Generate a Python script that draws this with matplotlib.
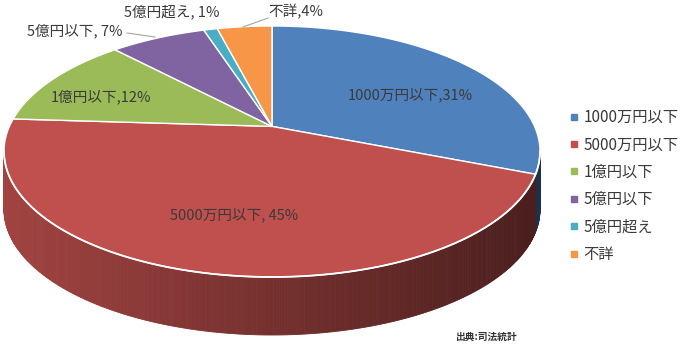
import numpy as np
import matplotlib
matplotlib.use('Agg')
import matplotlib.pyplot as plt
from matplotlib.patches import Polygon
from matplotlib.lines import Line2D
import matplotlib.colors as mcolors

plt.rcParams['font.family'] = ['Noto Sans CJK JP', 'DejaVu Sans']

categories = ['1000万円以下', '5000万円以下', '1億円以下', '5億円以下', '5億円超え', '不詳']
values = [31, 45, 12, 7, 1, 4]
label_texts = ['1000万円以下,31%', '5000万円以下, 45%', '1億円以下,12%',
               '5億円以下, 7%', '5億円超え, 1%', '不詳,4%']
colors = ['#4F81BD', '#C0504D', '#9BBB59', '#8064A2', '#4BACC6', '#F79646']
source_text = '出典:司法統計'

W, H = 680, 345
fig = plt.figure(figsize=(6.8, 3.45), dpi=100)
ax = fig.add_axes([0, 0, 1, 1])

# perspective projection of the unit pie onto the picture (pixels)
K = 0.2
CX = 272
Y_TOP, Y_FRONT = 26, 277
B = (Y_FRONT - Y_TOP) / 2 * (1 - K ** 2)
Y0 = Y_TOP + B / (1 + K)
A = 268 * np.sqrt(1 - K ** 2)
DEPTH = 58


def project(u, v, drop=0.0):
    u = np.asarray(u, float)
    v = np.asarray(v, float)
    d = 1 + K * v
    return CX + A * u / d, Y0 - B * v / d + drop


def arc(t1, t2, n=None):
    if n is None:
        n = max(int(abs(t2 - t1) / 0.5), 2)
    t = np.radians(np.linspace(t1, t2, n))
    return np.cos(t), np.sin(t)


# let the library lay out the wedges
wedges, _ = ax.pie(values, colors=colors, startangle=90, counterclock=False, radius=1)
geo = [(w.theta1, w.theta2, w.get_facecolor()) for w in wedges]
for w in wedges:
    w.remove()

ax.set_aspect('auto')
ax.set_xlim(0, W)
ax.set_ylim(H, 0)
ax.axis('off')

# side wall (visible between the silhouette points)
t_vis = np.degrees(np.arcsin(K))
vis_lo, vis_hi = -180 + t_vis, -t_vis
for t1, t2, fc in geo:
    for off in (-360, 0, 360):
        lo, hi = max(t1 + off, vis_lo), min(t2 + off, vis_hi)
        if hi <= lo:
            continue
        base = np.array(mcolors.to_rgb(fc))
        ts = np.linspace(lo, hi, max(int((hi - lo) / 0.5), 1) + 1)
        for a1, a2 in zip(ts[:-1], ts[1:]):
            u, v = arc(a1, a2, 2)
            xt, yt = project(u, v)
            xb, yb = project(u, v, DEPTH)
            xm = (xt.mean() - CX) / 268
            f = 0.84 - 0.46 * (xm + 1) / 2
            col = np.clip(base * f, 0, 1)
            ax.add_patch(Polygon(np.column_stack([np.r_[xt, xb[::-1]], np.r_[yt, yb[::-1]]]),
                                 closed=True, facecolor=col, edgecolor=col, lw=0.6, zorder=1))

# top face
for t1, t2, fc in geo:
    u, v = arc(t1, t2)
    u = np.r_[0, u]
    v = np.r_[0, v]
    x, y = project(u, v)
    ax.add_patch(Polygon(np.column_stack([x, y]), closed=True, facecolor=fc,
                         edgecolor='white', lw=1.0, joinstyle='miter', zorder=3))

# white highlight along front rim
u, v = arc(vis_lo, vis_hi)
x, y = project(u, v)
ax.plot(x, y, color='white', lw=1.3, zorder=5)

# data labels
label_pos = [(410, 95), (234, 215), (101, 97), (75, 31), (172, 12), (296, 12)]
for txt, (x, y) in zip(label_texts, label_pos):
    ax.text(x, y, txt, ha='center', va='center', fontsize=10.5, color='#3A3A3A', zorder=10)

# leader lines
for (x1, y1), (x2, y2) in [((127, 33), (155, 37)), ((243, 27), (268, 18))]:
    ax.plot([x1, x2], [y1, y2], color='#A6A6A6', lw=0.8, zorder=6)

# legend
handles = [Line2D([], [], marker='s', linestyle='none', color=c, markersize=4.5) for c in colors]
fig.legend(handles, categories, loc='upper left', bbox_to_anchor=(566 / W, 1 - 109 / H),
           frameon=False, fontsize=11, handletextpad=0.15, labelspacing=0.68,
           handlelength=1.0, borderaxespad=0, borderpad=0, labelcolor='#3A3A3A')

fig.text(455 / W, 1 - 337 / H, source_text, fontsize=7, fontweight='bold',
         color='#333333', ha='left', va='center')

fig.savefig('out.png', dpi=100)
